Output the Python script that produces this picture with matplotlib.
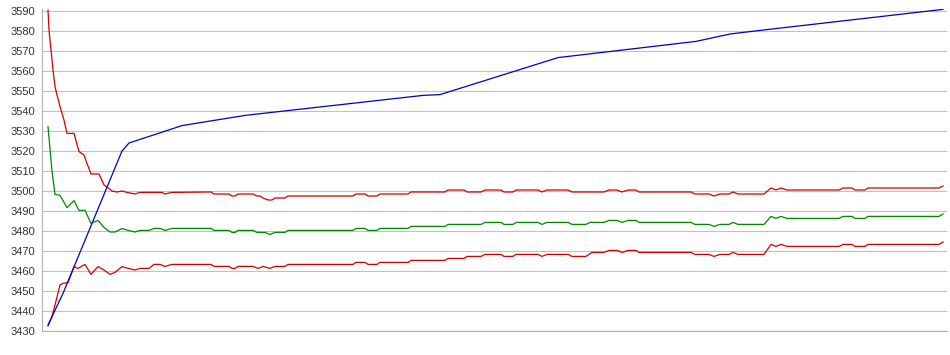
import matplotlib
matplotlib.use("Agg")
import matplotlib.pyplot as plt

plt.rcParams['font.family'] = ['Liberation Sans', 'DejaVu Sans']

# sample position (arbitrary units, no x labels in the chart)
blue_t = [0, 15, 74, 81, 134, 197, 375, 392, 510, 648, 682, 712, 895]
blue_v = [3433, 3448.8, 3520, 3524, 3532.7, 3537.8, 3547.8, 3548.2, 3566.7, 3574.8, 3578.5, 3580.3, 3590.8]

upper_t = [0, 1, 3, 5, 7, 9, 12, 16, 19, 26, 31, 36, 39, 43, 51, 56, 61, 64, 69, 74, 79, 87, 92, 114,
           117, 124, 163, 166, 181, 184, 187, 190, 205, 209, 212, 215, 220, 224, 227, 237, 240, 305,
           308, 317, 320, 329, 332, 360, 363, 397, 400, 416, 419, 433, 437, 453, 456, 465, 468, 490,
           494, 499, 520, 524, 556, 561, 569, 574, 580, 588, 591, 643, 647, 661, 666, 672, 681, 685,
           690, 716, 723, 728, 733, 739, 791, 795, 804, 807, 817, 820, 891, 895]
upper_v = [3590.5, 3580.5, 3570.5, 3560.5, 3552.2, 3548, 3542.2, 3535.5, 3528.8, 3528.8, 3519.7, 3518,
           3513.8, 3508.5, 3508.5, 3503, 3501.3, 3500, 3499.5, 3500, 3499.3, 3498.5, 3499.3, 3499.3,
           3498.5, 3499.3, 3499.5, 3498.5, 3498.5, 3497.5, 3497.5, 3498.5, 3498.5, 3497.5, 3497.5,
           3496.5, 3495.5, 3495.5, 3496.5, 3496.5, 3497.5, 3497.5, 3498.5, 3498.5, 3497.5, 3497.5,
           3498.5, 3498.5, 3499.5, 3499.5, 3500.5, 3500.5, 3499.5, 3499.5, 3500.5, 3500.5, 3499.5,
           3499.5, 3500.5, 3500.5, 3499.5, 3500.5, 3500.5, 3499.5, 3499.5, 3500.5, 3500.5, 3499.5,
           3500.5, 3500.5, 3499.5, 3499.5, 3498.5, 3498.5, 3497.5, 3498.5, 3498.5, 3499.5, 3498.5,
           3498.5, 3501.5, 3500.5, 3501.5, 3500.5, 3500.5, 3501.5, 3501.5, 3500.5, 3500.5, 3501.5,
           3501.5, 3502.5]

mid_t = [0, 4, 7, 12, 19, 26, 31, 37, 43, 50, 56, 62, 67, 74, 81, 87, 92, 101, 106, 112, 117, 124,
         163, 166, 181, 184, 187, 190, 205, 209, 217, 222, 227, 237, 240, 305, 308, 317, 320, 329,
         332, 360, 363, 397, 400, 433, 437, 453, 456, 465, 468, 490, 494, 499, 520, 524, 538, 542,
         556, 561, 569, 574, 580, 588, 591, 643, 647, 661, 666, 672, 681, 685, 690, 716, 723, 728,
         733, 739, 791, 795, 804, 807, 817, 820, 891, 895]
mid_v = [3532.2, 3510, 3498.3, 3497.8, 3491.7, 3495.2, 3490.3, 3490.3, 3483.8, 3485.3, 3481.8, 3479.5,
         3479.5, 3481.2, 3480.2, 3479.5, 3480.3, 3480.3, 3481.3, 3481.3, 3480.3, 3481.3, 3481.3,
         3480.3, 3480.3, 3479.3, 3479.3, 3480.3, 3480.3, 3479.3, 3479.3, 3478.3, 3479.3, 3479.3,
         3480.3, 3480.3, 3481.3, 3481.3, 3480.3, 3480.3, 3481.3, 3481.3, 3482.3, 3482.3, 3483.3,
         3483.3, 3484.3, 3484.3, 3483.3, 3483.3, 3484.3, 3484.3, 3483.3, 3484.3, 3484.3, 3483.3,
         3483.3, 3484.3, 3484.3, 3485.3, 3485.3, 3484.3, 3485.3, 3485.3, 3484.3, 3484.3, 3483.3,
         3483.3, 3482.3, 3483.3, 3483.3, 3484.3, 3483.3, 3483.3, 3487.3, 3486.3, 3487.3, 3486.3,
         3486.3, 3487.3, 3487.3, 3486.3, 3486.3, 3487.3, 3487.3, 3488.5]

lower_t = [0, 4, 7, 12, 15, 20, 26, 30, 37, 43, 50, 56, 62, 67, 74, 81, 87, 92, 101, 106, 112, 117,
           124, 163, 166, 181, 184, 187, 190, 205, 210, 215, 222, 227, 237, 240, 305, 308, 317, 320,
           329, 332, 360, 363, 397, 400, 416, 419, 433, 437, 453, 456, 465, 468, 490, 494, 499, 520,
           524, 538, 544, 556, 561, 569, 574, 580, 588, 591, 643, 647, 661, 666, 672, 681, 685, 690,
           716, 723, 728, 733, 739, 791, 795, 804, 807, 817, 820, 891, 895]
lower_v = [3432.5, 3437.2, 3443, 3453, 3453.8, 3454.2, 3462.2, 3461.3, 3463.3, 3458.3, 3462.2, 3460.5,
           3458.3, 3459.3, 3462.2, 3461.2, 3460.5, 3461.3, 3461.3, 3463.3, 3463.3, 3462.3, 3463.3,
           3463.3, 3462.3, 3462.3, 3461.3, 3461.3, 3462.3, 3462.3, 3461.3, 3462.3, 3461.3, 3462.3,
           3462.3, 3463.3, 3463.3, 3464.3, 3464.3, 3463.3, 3463.3, 3464.3, 3464.3, 3465.3, 3465.3,
           3466.3, 3466.3, 3467.3, 3467.3, 3468.3, 3468.3, 3467.3, 3467.3, 3468.3, 3468.3, 3467.3,
           3468.3, 3468.3, 3467.3, 3467.3, 3469.3, 3469.3, 3470.3, 3470.3, 3469.3, 3470.3, 3470.3,
           3469.3, 3469.3, 3468.3, 3468.3, 3467.3, 3468.3, 3468.3, 3469.3, 3468.3, 3468.3, 3473.3,
           3472.3, 3473.3, 3472.3, 3472.3, 3473.3, 3473.3, 3472.3, 3472.3, 3473.3, 3473.3, 3474.5]

y_ticks = list(range(3430, 3591, 10))

fig = plt.figure(figsize=(9.5, 3.55), dpi=100)
ax = fig.add_axes([42 / 950, 24 / 355, 905 / 950, 322 / 355])

ax.plot(upper_t, upper_v, color='#d40000', lw=0.9)
ax.plot(mid_t, mid_v, color='#008800', lw=0.9)
ax.plot(lower_t, lower_v, color='#d40000', lw=0.9)
ax.plot(blue_t, blue_v, color='#0000cc', lw=0.9)

ax.set_xlim(-6, 899)
ax.set_ylim(3430, 3591)
ax.set_yticks(y_ticks)
ax.set_xticks([])
ax.grid(axis='y', color='#c0c0c0', lw=0.8)
ax.set_axisbelow(True)
ax.tick_params(axis='y', length=0, pad=5, labelsize=8, labelcolor='#333333')
for side in ['top', 'right']:
    ax.spines[side].set_visible(False)
for side in ['left', 'bottom']:
    ax.spines[side].set_color('#b0b0b0')
    ax.spines[side].set_linewidth(0.8)

fig.savefig('out.png', dpi=100)
